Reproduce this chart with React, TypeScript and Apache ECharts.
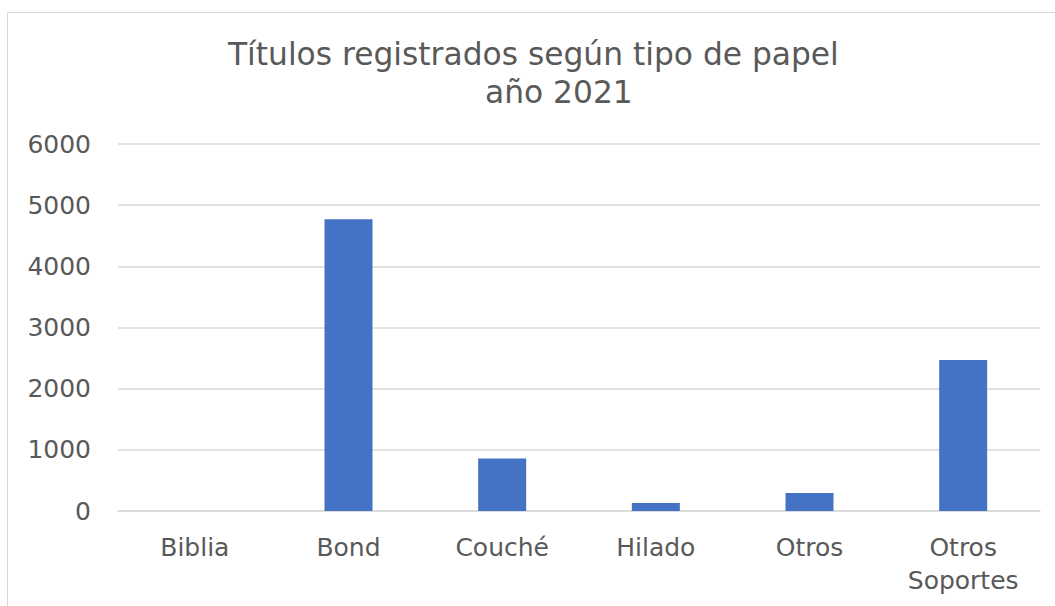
import React, { useEffect, useRef } from "react";
import * as echarts from "echarts";

const categories = ["Biblia", "Bond", "Couché", "Hilado", "Otros", "Otros Soportes"];
const values = [0, 4770, 860, 130, 295, 2470];
const yTicks = { min: 0, max: 6000, interval: 1000 };
const titleLine1 = "Títulos registrados según tipo de papel";
const titleLine2 = "año 2021";

export default function App() {
  const ref = useRef<HTMLDivElement>(null);
  useEffect(() => {
    if (!ref.current) return;
    const chart = echarts.init(ref.current, null, { renderer: "svg" });
    const font = "'DejaVu Sans', Verdana, sans-serif";
    chart.setOption({
      animation: false,
      backgroundColor: "#ffffff",
      title: [
        {
          text: titleLine1,
          left: 228,
          top: 35,
          padding: 0,
          textStyle: { fontFamily: font, fontSize: 31.3, fontWeight: "normal", color: "#595959", lineHeight: 38 },
        },
        {
          text: titleLine2,
          left: 485,
          top: 73,
          padding: 0,
          textStyle: { fontFamily: font, fontSize: 31.3, fontWeight: "normal", color: "#595959", lineHeight: 38 },
        },
      ],
      graphic: [
        {
          type: "rect",
          shape: { x: 7.5, y: 12.5, width: 1200, height: 800 },
          style: { fill: "none", stroke: "#D9D9D9", lineWidth: 1 },
          silent: true,
          z: -1,
        },
      ],
      grid: { left: 118, right: 15, top: 144, bottom: 95, containLabel: false },
      xAxis: {
        type: "category",
        data: categories,
        axisLine: { show: true, lineStyle: { color: "#D9D9D9", width: 1.5 } },
        axisTick: { show: false },
        axisLabel: {
          fontFamily: font,
          fontSize: 25,
          color: "#595959",
          margin: 20,
          lineHeight: 33,
          interval: 0,
          formatter: (v: string) => v.replace(" ", "\n"),
        },
      },
      yAxis: {
        type: "value",
        min: yTicks.min,
        max: yTicks.max,
        interval: yTicks.interval,
        axisLine: { show: false },
        axisTick: { show: false },
        splitLine: { lineStyle: { color: "#D9D9D9", width: 1.5 } },
        axisLabel: {
          fontFamily: font,
          fontSize: 25,
          color: "#595959",
          margin: 27,
          formatter: (v: number) => String(v),
        },
      },
      series: [
        {
          type: "bar",
          data: values,
          barWidth: 48,
          itemStyle: { color: "#4472C4" },
        },
      ],
    });
    return () => chart.dispose();
  }, []);
  return (
    <div
      ref={ref}
      style={{ position: "absolute", left: 0, top: 0, width: 1055, height: 606 }}
    />
  );
}
